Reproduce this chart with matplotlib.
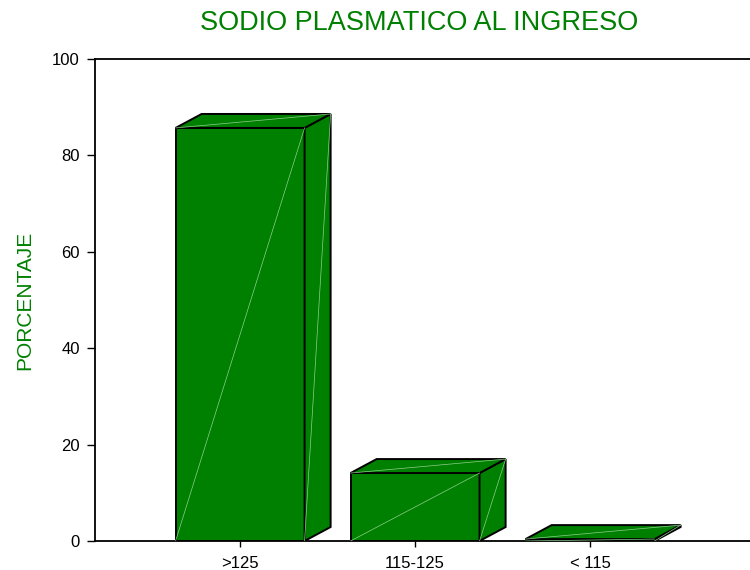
import matplotlib.pyplot as plt
from matplotlib.patches import Polygon

plt.rcParams['font.family'] = ['Liberation Sans', 'DejaVu Sans']

categorias = [">125", "115-125", "< 115"]
porcentaje = [85.7, 14.1, 0.4]

verde = "#008000"
diag = "#8fcf8f"
ancho = 0.737
dx, dy = 0.149, 2.9

fig = plt.figure(figsize=(7.5, 5.7), dpi=100)
ax = fig.add_axes([95/750, 29/570, 655/750, 482/570])

for i, v in enumerate(porcentaje):
    x0 = i - ancho/2
    x1 = i + ancho/2
    frente = [(x0, 0), (x1, 0), (x1, v), (x0, v)]
    lado = [(x1, 0), (x1+dx, dy), (x1+dx, v+dy), (x1, v)]
    techo = [(x0, v), (x0+dx, v+dy), (x1+dx, v+dy), (x1, v)]
    for cara in (frente, lado, techo):
        ax.add_patch(Polygon(cara, closed=True, facecolor=verde,
                             edgecolor="black", lw=1.4, zorder=3))
    # lineas diagonales claras
    ax.plot([x0, x1], [0, v], color=diag, lw=0.5, zorder=4)
    ax.plot([x1, x1+dx], [0, v+dy], color=diag, lw=0.5, zorder=4)
    ax.plot([x0, x1+dx], [v, v+dy], color=diag, lw=0.5, zorder=4)

ax.set_xlim(-0.829, 2.914)
ax.set_ylim(0, 100)
ax.set_xticks(range(len(categorias)))
ax.set_xticklabels(categorias, fontsize=12)
ax.set_yticks([0, 20, 40, 60, 80, 100])
ax.tick_params(axis='y', length=6, width=1, labelsize=12, pad=5)
ax.tick_params(axis='x', length=4, width=1, pad=7)

ax.spines['right'].set_visible(False)
for s in ('left', 'top', 'bottom'):
    ax.spines[s].set_linewidth(1.3)

fig.text(25/750, 1 - 300/570, "PORCENTAJE", color=verde, fontsize=15,
         rotation=90, ha='center', va='center')
fig.text(419/750, 1 - 23/570, "SODIO PLASMATICO AL INGRESO", color=verde,
         fontsize=19.5, ha='center', va='center')

fig.savefig("out.png", dpi=100)
